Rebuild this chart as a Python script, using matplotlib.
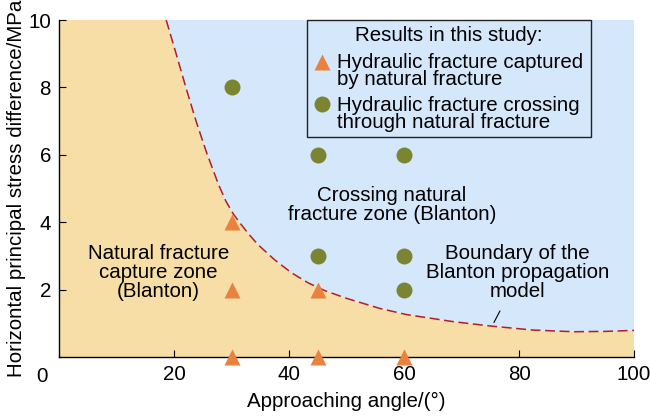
import matplotlib
matplotlib.use('Agg')
import matplotlib.pyplot as plt
from matplotlib.patches import Rectangle, Polygon

plt.rcParams['font.family'] = ['Liberation Sans', 'DejaVu Sans']

# results of this study
cap_angle = [30, 30, 30, 45, 45, 60]
cap_stress = [0, 2, 4, 0, 2, 0]
cross_angle = [30, 45, 60, 45, 60, 60]
cross_stress = [8, 6, 6, 3, 3, 2]

# Blanton boundary
bnd_angle = [18.6, 20.4, 22.2, 23.8, 25.6, 27.7, 29.0, 30.3, 31.7, 33.0, 34.6, 37.5,
             40.4, 43.3, 46.2, 50.0, 55.8, 60.4, 68.5, 75.0, 82.4, 89.5, 95.0, 100.0]
bnd_stress = [10.0, 8.96, 7.90, 7.00, 6.08, 5.12, 4.62, 4.24, 3.92, 3.64, 3.33, 2.88,
              2.50, 2.20, 1.97, 1.74, 1.44, 1.26, 1.05, 0.92, 0.80, 0.75, 0.76, 0.79]

x_ticks = [20, 40, 60, 80, 100]
y_ticks = [2, 4, 6, 8, 10]

FS = 14.8
orange_bg = '#f7dea6'
blue_bg = '#d5e7fa'
tri_col = '#e8823e'
dot_col = '#7b8431'
curve_col = '#b01e2c'

fig = plt.figure(figsize=(6.5, 4.16), dpi=100)
ax = fig.add_axes([0.0912, 0.1418, 0.8842, 0.8101])
ax.set_xlim(0, 100)
ax.set_ylim(0, 10)

# background zones
cap_poly = [(0, 0), (0, 10)] + list(zip(bnd_angle, bnd_stress)) + [(100, 0)]
cross_poly = list(zip(bnd_angle, bnd_stress)) + [(100, 10)]
ax.add_patch(Polygon(cap_poly, closed=True, fc=orange_bg, ec='none', zorder=0))
ax.add_patch(Polygon(cross_poly, closed=True, fc=blue_bg, ec='none', zorder=0))

ax.plot(bnd_angle, bnd_stress, color=curve_col, lw=1.1, dashes=(6.5, 3), zorder=2)

ax.plot(cap_angle, cap_stress, ls='none', marker='^', ms=11, color=tri_col,
        mec='none', clip_on=False, zorder=5)
ax.plot(cross_angle, cross_stress, ls='none', marker='o', ms=11.5, color=dot_col,
        mec='none', clip_on=False, zorder=5)

# zone texts
ax.text(17.2, 2.52, 'Natural fracture\ncapture zone\n(Blanton)', ha='center', va='center',
        fontsize=FS, linespacing=1.0)
ax.text(57.9, 4.5, 'Crossing natural\nfracture zone (Blanton)', ha='center', va='center',
        fontsize=FS, linespacing=1.0)
ax.text(79.7, 2.51, 'Boundary of the\nBlanton propagation\nmodel', ha='center', va='center',
        fontsize=FS, linespacing=1.0)
ax.annotate('', xy=(75.4, 0.95), xytext=(76.9, 1.44),
            arrowprops=dict(arrowstyle='-', color='black', lw=0.8))

# legend box drawn by hand
ax.add_patch(Rectangle((0.431, 0.654), 0.494, 0.347, transform=ax.transAxes,
                       fc='none', ec='#222222', lw=1.0, zorder=6, clip_on=False))
ax.text(0.678, 0.955, 'Results in this study:', transform=ax.transAxes,
        ha='center', va='center', fontsize=FS)
ax.plot([0.4566], [0.876], transform=ax.transAxes, marker='^', ms=11,
        color=tri_col, mec='none', ls='none')
ax.plot([0.4566], [0.751], transform=ax.transAxes, marker='o', ms=11.5,
        color=dot_col, mec='none', ls='none')
ax.text(0.484, 0.849, 'Hydraulic fracture captured\nby natural fracture',
        transform=ax.transAxes, ha='left', va='center', fontsize=FS, linespacing=0.85)
ax.text(0.484, 0.722, 'Hydraulic fracture crossing\nthrough natural fracture',
        transform=ax.transAxes, ha='left', va='center', fontsize=FS, linespacing=0.85)

# axes styling
for s in ['top', 'right']:
    ax.spines[s].set_visible(False)
for s in ['left', 'bottom']:
    ax.spines[s].set_linewidth(1.0)
ax.set_xticks(x_ticks)
ax.set_yticks(y_ticks)
ax.tick_params(direction='in', length=5, width=0.8, labelsize=FS, pad=6)
ax.annotate('0', xy=(0, 0), xytext=(-12.5, -14), textcoords='offset points',
            ha='center', va='center', fontsize=FS, annotation_clip=False)

ax.set_xlabel('Approaching angle/(°)', fontsize=FS)
ax.set_ylabel('Horizontal principal stress difference/MPa', fontsize=FS)
ax.xaxis.set_label_coords(0.5, -0.104)
ax.yaxis.set_label_coords(-0.058, 0.5)

fig.savefig('out.png', dpi=100)
